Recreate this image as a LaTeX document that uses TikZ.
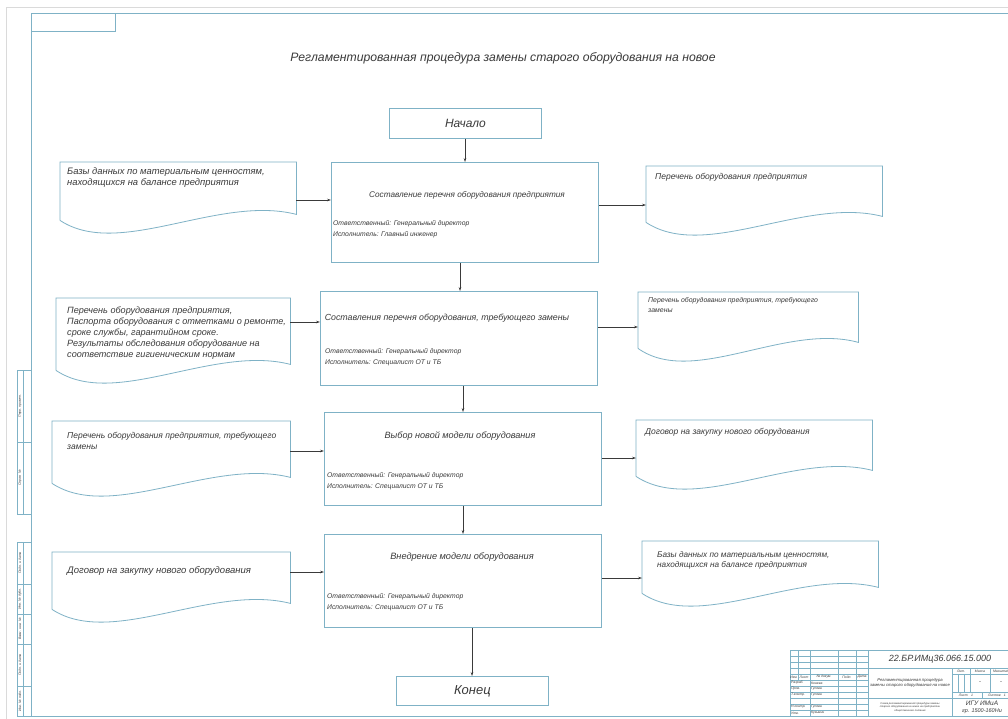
\documentclass[tikz,border=0pt]{standalone}
\usepackage{fontspec}
\setmainfont{Liberation Sans}
\usetikzlibrary{arrows.meta,calc}

\definecolor{frameblue}{HTML}{7FB2C6}
\definecolor{inkgray}{HTML}{3A3A3A}
\definecolor{pagegray}{HTML}{DADADA}

\newcommand\bodyfont{\fontsize{8.5}{11}\selectfont\itshape}
\newcommand\fsz[2]{\fontsize{#1}{#2}\selectfont\itshape}
\newcommand\tinyfont{\fontsize{3.4}{4}\selectfont\itshape}

% document symbol: straight top and sides, wavy bottom edge
\newcommand\docshape[1]{%
  \draw[docline] (#1.south west) -- (#1.north west) -- (#1.north east)
    -- ($(#1.south east)+(0,-6)$)
    .. controls ($(#1.south east)!0.33!(#1.south west)+(0,-26)$)
       and ($(#1.south west)!0.25!(#1.south east)+(0,39)$) .. (#1.south west);}

\begin{document}
\begin{tikzpicture}[x=1pt,y=-1pt,
  frameline/.style={draw=frameblue,line width=0.9pt},
  thinline/.style={draw=frameblue,line width=0.4pt},
  docline/.style={draw=frameblue,line width=0.8pt},
  procbox/.style={draw=frameblue,line width=0.8pt,anchor=north west,inner sep=0pt,
                  text=inkgray},
  docbox/.style={anchor=north west,inner sep=0pt},
  doctext/.style={anchor=north west,align=left,font=\bodyfont,text=inkgray,inner sep=0pt},
  resptext/.style={anchor=north west,align=left,font=\fsz{6.8}{10.8},text=inkgray,inner sep=0pt},
  boxtitle/.style={font=\bodyfont,text=inkgray,inner sep=0pt},
  conn/.style={draw=inkgray,line width=0.5pt,-{Stealth[length=4pt,width=2.6pt]}},
  tb/.style={font=\tinyfont,text=inkgray,inner sep=0pt},
  stamptext/.style={font=\tinyfont,text=inkgray,inner sep=0pt,rotate=90},
]
\fill[white] (0,0) rectangle (1008,719);
\useasboundingbox (0,0) rectangle (1008,719);

% sheet edge and drawing frame
\draw[pagegray,line width=0.6pt] (6,719) -- (6,7) -- (1010,7);
\draw[frameline] (1014,13) -- (31,13) -- (31,716) -- (1014,716);
\draw[frameline] (31,13) rectangle (115,31);

% title
\node[font=\fsz{12.2}{14},text=inkgray] (title) at (503,58)
  {Регламентированная процедура замены старого оборудования на новое};

% start / end
\node[procbox,minimum width=152pt,minimum height=30pt,font=\fsz{12}{14}]
  (S) at (389,108) {Начало};
\node[procbox,minimum width=152pt,minimum height=29pt,font=\fsz{13}{14}]
  (E) at (396,676) {Конец};

% process steps
\node[procbox,minimum width=267pt,minimum height=100pt] (B1) at (331,162) {};
\node[procbox,minimum width=277pt,minimum height=94pt]  (B2) at (320,291) {};
\node[procbox,minimum width=277pt,minimum height=93pt]  (B3) at (324,412) {};
\node[procbox,minimum width=277pt,minimum height=93pt]  (B4) at (324,534) {};

\node[boxtitle,font=\fsz{8.2}{10}] (B1t) at (467,195) {Составление перечня оборудования предприятия};
\node[boxtitle,font=\fsz{8.8}{10}] (B2t) at (447,318) {Составления перечня оборудования, требующего замены};
\node[boxtitle,font=\fsz{9.1}{10}] (B3t) at (460,436) {Выбор новой модели оборудования};
\node[boxtitle,font=\fsz{9.2}{10}] (B4t) at (462,557) {Внедрение модели оборудования};

\node[resptext] (B1r) at (333,220) {Ответственный: Генеральный директор\\Исполнитель: Главный инженер};
\node[resptext] (B2r) at (325,348) {Ответственный: Генеральный директор\\Исполнитель: Специалист ОТ и ТБ};
\node[resptext] (B3r) at (327,472) {Ответственный: Генеральный директор\\Исполнитель: Специалист ОТ и ТБ};
\node[resptext] (B4r) at (327,593) {Ответственный: Генеральный директор\\Исполнитель: Специалист ОТ и ТБ};

% input documents (left)
\node[docbox,minimum width=236pt,minimum height=58pt] (L1) at (60,162) {};
\node[docbox,minimum width=234pt,minimum height=72pt] (L2) at (56,298) {};
\node[docbox,minimum width=238pt,minimum height=62pt] (L3) at (52,421) {};
\node[docbox,minimum width=238pt,minimum height=57pt] (L4) at (52,552) {};
\docshape{L1}\docshape{L2}\docshape{L3}\docshape{L4}

\node[doctext,font=\fsz{9.4}{11}] (L1t) at (67,167) {Базы данных по материальным ценностям,\\находящихся на балансе предприятия};
\node[doctext,font=\fsz{9.1}{10.8}] (L2t) at (67,307) {Перечень оборудования предприятия,\\Паспорта оборудования с отметками о ремонте,\\сроке службы, гарантийном сроке.\\Результаты обследования оборудование на\\соответствие гигиеническим нормам};
\node[doctext] (L3t) at (67,432) {Перечень оборудования предприятия, требующего\\замены};
\node[doctext,font=\fsz{9.5}{11}] (L4t) at (67,566) {Договор на закупку нового оборудования};

% output documents (right)
\node[docbox,minimum width=236pt,minimum height=56pt] (R1) at (646,166) {};
\node[docbox,minimum width=220pt,minimum height=56pt] (R2) at (638,292) {};
\node[docbox,minimum width=236pt,minimum height=56pt] (R3) at (636,420) {};
\node[docbox,minimum width=236pt,minimum height=52pt] (R4) at (642,541) {};
\docshape{R1}\docshape{R2}\docshape{R3}\docshape{R4}

\node[doctext] (R1t) at (655,173) {Перечень оборудования предприятия};
\node[doctext,font=\fsz{6.9}{10.5}] (R2t) at (648,297) {Перечень оборудования предприятия, требующего\\замены};
\node[doctext] (R3t) at (645,428) {Договор на закупку нового оборудования};
\node[doctext,font=\fsz{8.2}{10.8}] (R4t) at (657,551) {Базы данных по материальным ценностям,\\находящихся на балансе предприятия};

% connector levels
\coordinate (in1) at (0,200);  \coordinate (out1) at (0,205);
\coordinate (in2) at (0,322);  \coordinate (out2) at (0,327);
\coordinate (in3) at (0,451);  \coordinate (out3) at (0,458);
\coordinate (in4) at (0,572);  \coordinate (out4) at (0,578);
\coordinate (v0) at (465,0); \coordinate (v1) at (460,0); \coordinate (v2) at (463,0);
\coordinate (v3) at (463,0); \coordinate (v4) at (472,0);

\draw[conn] (L1.east |- in1) -- (B1.west |- in1);
\draw[conn] (L2.east |- in2) -- (B2.west |- in2);
\draw[conn] (L3.east |- in3) -- (B3.west |- in3);
\draw[conn] (L4.east |- in4) -- (B4.west |- in4);
\draw[conn] (B1.east |- out1) -- (R1.west |- out1);
\draw[conn] (B2.east |- out2) -- (R2.west |- out2);
\draw[conn] (B3.east |- out3) -- (R3.west |- out3);
\draw[conn] (B4.east |- out4) -- (R4.west |- out4);

\draw[conn] (S.south -| v0) -- (B1.north -| v0);
\draw[conn] (B1.south -| v1) -- (B2.north -| v1);
\draw[conn] (B2.south -| v2) -- (B3.north -| v2);
\draw[conn] (B3.south -| v3) -- (B4.north -| v3);
\draw[conn] (B4.south -| v4) -- (E.north -| v4);

% side stamps
\draw[frameline] (17,370) rectangle (31,514);
\draw[thinline] (23,370) -- (23,514) (17,442) -- (31,442);
\node[stamptext] (st1) at (20,406) {Перв. примен.};
\node[stamptext] (st2) at (20,478) {Справ. №};
\draw[frameline] (17,542) rectangle (31,716);
\draw[thinline] (23,542) -- (23,716);
\foreach \yy in {584,614,644,686} \draw[thinline] (17,\yy) -- (31,\yy);
\node[stamptext] (st3) at (20,563) {Подп. и дата};
\node[stamptext] (st4) at (20,599) {Инв. № дубл.};
\node[stamptext] (st5) at (20,629) {Взам. инв. №};
\node[stamptext] (st6) at (20,665) {Подп. и дата};
\node[stamptext] (st7) at (20,701) {Инв. № подл.};

% title block
\draw[frameline] (790,716) -- (790,650) -- (1014,650);
\draw[frameline] (790,668) -- (1014,668) (790,680) -- (868,680);
\draw[frameline] (868,650) -- (868,716) (952,668) -- (952,716) (868,698) -- (1014,698);
\foreach \yy in {656,662,674,686,692,698,704,710} \draw[thinline] (790,\yy) -- (868,\yy);
\draw[thinline] (798,650) -- (798,680);
\foreach \xx in {810,838,856} \draw[thinline] (\xx,650) -- (\xx,716);
\draw[thinline] (952,674) -- (1014,674) (952,692) -- (1014,692);
\draw[thinline] (958,674) -- (958,692) (964,674) -- (964,692) (970,668) -- (970,692)
  (990,668) -- (990,692) (982,692) -- (982,698);

\node[tb] (h1) at (794,677) {Изм.};
\node[tb] (h2) at (804,677) {Лист};
\node[tb] (h3) at (824,677) {№ докум.};
\node[tb] (h4) at (847,677) {Подп.};
\node[tb] (h5) at (862,677) {Дата};
\node[tb,anchor=west] (p1) at (791,683) {Разраб.};
\node[tb,anchor=west] (p2) at (791,689) {Пров.};
\node[tb,anchor=west] (p3) at (791,695) {Т.контр.};
\node[tb,anchor=west] (p4) at (791,707) {Н.контр.};
\node[tb,anchor=west] (p5) at (791,713) {Утв.};
\node[tb,anchor=west] (n1) at (811,683) {Конева};
\node[tb,anchor=west] (n2) at (811,689) {Гусева};
\node[tb,anchor=west] (n3) at (811,695) {Гусева};
\node[tb,anchor=west] (n4) at (811,707) {Гусева};
\node[tb,anchor=west] (n5) at (811,713) {Кузьмин};

\node[font=\fsz{9}{10},text=inkgray,inner sep=0pt] (code) at (940,659)
  {22.БР.ИМц36.066.15.000};
\node[font=\fsz{4.2}{5},text=inkgray,inner sep=0pt,align=center]
  (tname) at (910,683) {Регламентированная процедура\\замены старого оборудования на новое};
\node[font=\fsz{2.6}{3.4},text=inkgray,inner sep=0pt,align=center]
  (tmat) at (910,707) {Схема регламентированной процедуры замены\\старого оборудования на новое на предприятии\\общественного питания};
\node[tb] (lit) at (961,671) {Лит.};
\node[tb] (mass) at (980,671) {Масса};
\node[tb] (scale) at (1001,671) {Масштаб};
\node[font=\fontsize{6}{7}\selectfont,text=inkgray,inner sep=0pt] (mv) at (980,683) {-};
\node[font=\fontsize{6}{7}\selectfont,text=inkgray,inner sep=0pt] (sv) at (1001,683) {-};
\node[tb] (sh1) at (966,695) {Лист\quad 1};
\node[tb] (sh2) at (997,695) {Листов\quad 1};
\node[font=\fsz{6.5}{7},text=inkgray,inner sep=0pt] (org1) at (982,703) {ИГУ ИМиА};
\node[font=\fsz{5.5}{6},text=inkgray,inner sep=0pt] (org2) at (982,711) {гр. 1500-160Ни};
\end{tikzpicture}
\end{document}
